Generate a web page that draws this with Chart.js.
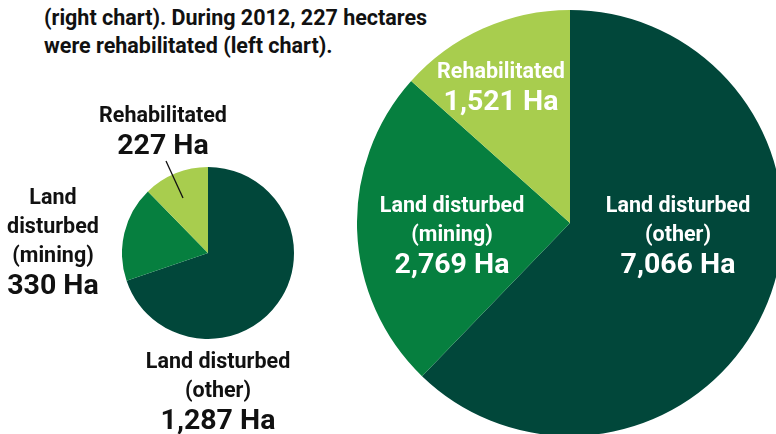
<!DOCTYPE html>
<html>
<head>
<meta charset="utf-8">
<script src="https://cdn.jsdelivr.net/npm/chart.js@4"></script>
<style>
  html, body { margin: 0; padding: 0; }
  body { width: 776px; height: 434px; overflow: hidden; position: relative; background: #fff;
         font-family: Roboto, "DejaVu Sans", sans-serif; font-weight: 700; }
  .intro { position: absolute; left: 44px; top: 4px; font-size: 21.5px; line-height: 28px; color: #111; letter-spacing: 0px; }
  canvas { position: absolute; }
  .lbl { position: absolute; transform: translate(-50%, -50%); white-space: nowrap; text-align: center; }
  .name { font-size: 21.5px; line-height: 29px; }
  .val  { font-size: 28.5px; line-height: 32px; }
  .dark { color: #111; }
  .light { color: #fff; }
</style>
</head>
<body>
<div class="intro">(right chart). During 2012, 227 hectares<br>were rehabilitated (left chart).</div>

<canvas id="pie-2012" width="172" height="172" style="left:122px;top:167px;width:172px;height:172px"></canvas>
<canvas id="pie-total" width="426" height="426" style="left:357px;top:10px;width:426px;height:426px"></canvas>

<svg width="776" height="434" style="position:absolute;left:0;top:0;pointer-events:none">
  <line x1="166" y1="161" x2="183" y2="198" stroke="#111" stroke-width="1.3"/>
</svg>

<!-- left chart labels -->
<div class="lbl dark" style="left:163px;top:130px">
  <div class="name">Rehabilitated</div><div class="val">227 Ha</div>
</div>
<div class="lbl dark" style="left:53px;top:241px">
  <div class="name">Land<br>disturbed<br>(mining)</div><div class="val">330 Ha</div>
</div>
<div class="lbl dark" style="left:218px;top:391px">
  <div class="name">Land disturbed<br>(other)</div><div class="val">1,287 Ha</div>
</div>

<!-- right chart labels -->
<div class="lbl light" style="left:501px;top:86px">
  <div class="name">Rehabilitated</div><div class="val">1,521 Ha</div>
</div>
<div class="lbl light" style="left:452px;top:235px">
  <div class="name">Land disturbed<br>(mining)</div><div class="val">2,769 Ha</div>
</div>
<div class="lbl light" style="left:678px;top:235px">
  <div class="name">Land disturbed<br>(other)</div><div class="val">7,066 Ha</div>
</div>

<script>
// ── Data ─────────────────────────────────────────────────────
const categories   = ['Land disturbed (other)', 'Land disturbed (mining)', 'Rehabilitated'];
const hectares2012 = [1287, 330, 227];
const hectaresAll  = [7066, 2769, 1521];
const sliceColors  = ['#01473a', '#067f3f', '#a8cd4e'];

// ── Pie helper ───────────────────────────────────────────────
function makePie(id, values) {
  return new Chart(document.getElementById(id), {
    type: 'pie',
    data: {
      labels: categories,
      datasets: [{ data: values, backgroundColor: sliceColors, borderWidth: 0 }]
    },
    options: {
      responsive: false,
      animation: false,
      layout: { padding: 0 },
      plugins: { legend: { display: false }, tooltip: { enabled: false } }
    }
  });
}

makePie('pie-2012', hectares2012);
makePie('pie-total', hectaresAll);
</script>
</body>
</html>
